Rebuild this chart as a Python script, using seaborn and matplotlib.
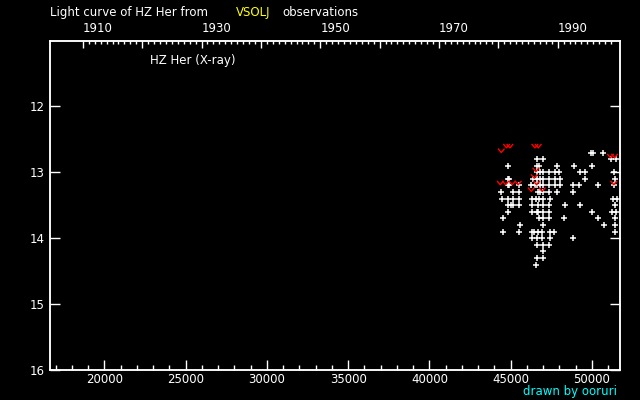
import numpy as np
import pandas as pd
import matplotlib
matplotlib.use("Agg")
import matplotlib.pyplot as plt
from matplotlib.path import Path
from matplotlib.markers import MarkerStyle
from matplotlib.ticker import FixedLocator, NullLocator
import seaborn as sns

# Visual observations (JD - 2400000, magnitude)
obs_jd = [
    49937, 50039, 50695,
    46595, 47005, 51146, 51454,
    44852, 46595, 46759, 47866, 48912, 50019,
    46636, 46800, 47005, 47374, 47743, 47989, 49281, 49588, 51372,
    44812, 44914, 46390, 46595, 46800, 47005, 47374, 47743, 48051, 49588, 51433,
    44852, 44914, 45529, 46226, 46493, 46636, 46800, 47005, 47374, 47743, 48051, 48850, 49219, 50388, 51372,
    44422, 45160, 45529, 46657, 46800, 47005, 47374, 47866, 48850,
    44484, 44852, 45160, 45529, 46288, 46534, 46718, 47005, 47415, 51310, 51556,
    44812, 44996, 45119, 45529, 46288, 46698, 47005, 47374, 48358, 49281, 51433,
    44852, 46329, 46595, 46698, 46964, 47374, 50019, 51249, 51454,
    44545, 46759, 47005, 47374, 48297, 50388, 51392,
    45591, 46985, 50757, 51392,
    44545, 45529, 46288, 46411, 46698, 46944, 47415, 47682, 51433,
    46329, 46636, 46944, 47436, 48850,
    46636, 47005, 47374,
    47005,
    46636, 47005,
    46575,
]
obs_mag = (
    [12.7] * 3 + [12.8] * 4 + [12.9] * 6 + [13.0] * 9 + [13.1] * 11
    + [13.2] * 15 + [13.3] * 9 + [13.4] * 11 + [13.5] * 11 + [13.6] * 9
    + [13.7] * 7 + [13.8] * 4 + [13.9] * 9 + [14.0] * 5 + [14.1] * 3
    + [14.2] * 1 + [14.3] * 2 + [14.4] * 1
)

# Fainter-than observations (red marks)
faint_jd = [44750, 44955, 46493, 46698, 44422, 51146, 51392, 46554, 46452,
            44360, 44689, 45099, 45468, 46595, 51351, 46267, 46944]
faint_mag = [12.6, 12.6, 12.6, 12.6, 12.67, 12.75, 12.75, 12.96, 13.06,
             13.16, 13.16, 13.16, 13.16, 13.16, 13.16, 13.26, 13.26]

jd_ticks = [20000, 25000, 30000, 35000, 40000, 45000, 50000]
mag_ticks = [12, 13, 14, 15, 16]
year_labels = [1910, 1930, 1950, 1970, 1990]


def year_to_jd(y):
    return 15020.5 + (np.asarray(y, dtype=float) - 1900) * 365.2425


obs = pd.DataFrame({"jd": obs_jd, "mag": obs_mag})
faint = pd.DataFrame({"jd": faint_jd, "mag": faint_mag})

plt.rcParams["font.family"] = ["DejaVu Sans"]
fig = plt.figure(figsize=(6.4, 4), dpi=100, facecolor="black")
ax = fig.add_axes([50 / 640, 30 / 400, 570 / 640, 329.5 / 400], facecolor="black")

sns.scatterplot(data=obs, x="jd", y="mag", ax=ax, marker="+", color="white",
                s=13, linewidth=1.1)
vmark = MarkerStyle(Path([(-1, 0.6), (0, -0.6), (1, 0.6)]), fillstyle="none")
sns.scatterplot(data=faint, x="jd", y="mag", ax=ax, marker=vmark, color="red",
                s=22, linewidth=1.0)

ax.set_xlim(16650, 51730)
ax.set_ylim(16, 11)
ax.set_xlabel("")
ax.set_ylabel("")

for sp in ax.spines.values():
    sp.set_color("white")
    sp.set_linewidth(1.1)

ax.xaxis.set_major_locator(FixedLocator(jd_ticks))
ax.xaxis.set_minor_locator(FixedLocator(np.arange(17000, 51001, 1000)))
ax.set_xticklabels([str(v) for v in jd_ticks])
ax.yaxis.set_major_locator(FixedLocator(mag_ticks))
ax.yaxis.set_minor_locator(NullLocator())
ax.set_yticklabels([str(v) for v in mag_ticks])
ax.tick_params(axis="x", which="major", direction="in", length=7, width=1,
               color="white", labelcolor="white", labelsize=8.5, pad=2)
ax.tick_params(axis="x", which="minor", direction="in", length=3.6, width=1,
               color="white")
ax.tick_params(axis="y", which="major", direction="in", length=7, width=1,
               color="white", labelcolor="white", labelsize=8.5, pad=4,
               right=True)

# top axis in years
ax2 = ax.twiny()
ax2.set_xlim(ax.get_xlim())
decades = np.arange(1910, 1991, 10)
ax2.xaxis.set_major_locator(FixedLocator(year_to_jd(decades)))
ax2.xaxis.set_minor_locator(FixedLocator(year_to_jd(np.arange(1910, 2000))))
ax2.set_xticklabels([str(d) if d in year_labels else "" for d in decades])
for lab in ax2.get_xticklabels():
    lab.set_horizontalalignment("left")
ax2.tick_params(axis="x", which="major", direction="in", length=5, width=1,
                color="white", labelcolor="white", labelsize=8.5, pad=4)
ax2.tick_params(axis="x", which="minor", direction="in", length=2.5, width=1,
                color="white")
for sp in ax2.spines.values():
    sp.set_color("white")
    sp.set_linewidth(1.1)

title_y = 1 - 16 / 400
fig.text(50 / 640, title_y, "Light curve of HZ Her from", color="white",
         fontsize=8.5, va="baseline", ha="left")
fig.text(236 / 640, title_y, "VSOLJ", color="yellow",
         fontsize=8.5, va="baseline", ha="left")
fig.text(282 / 640, title_y, "observations", color="white",
         fontsize=8.5, va="baseline", ha="left")
fig.text(150 / 640, 1 - 64 / 400, "HZ Her (X-ray)", color="white",
         fontsize=8.5, va="baseline", ha="left")
fig.text(617 / 640, 1 - 395 / 400, "drawn by ooruri", color="cyan",
         fontsize=8.5, va="baseline", ha="right")

fig.savefig("out.png", dpi=100, facecolor="black")
